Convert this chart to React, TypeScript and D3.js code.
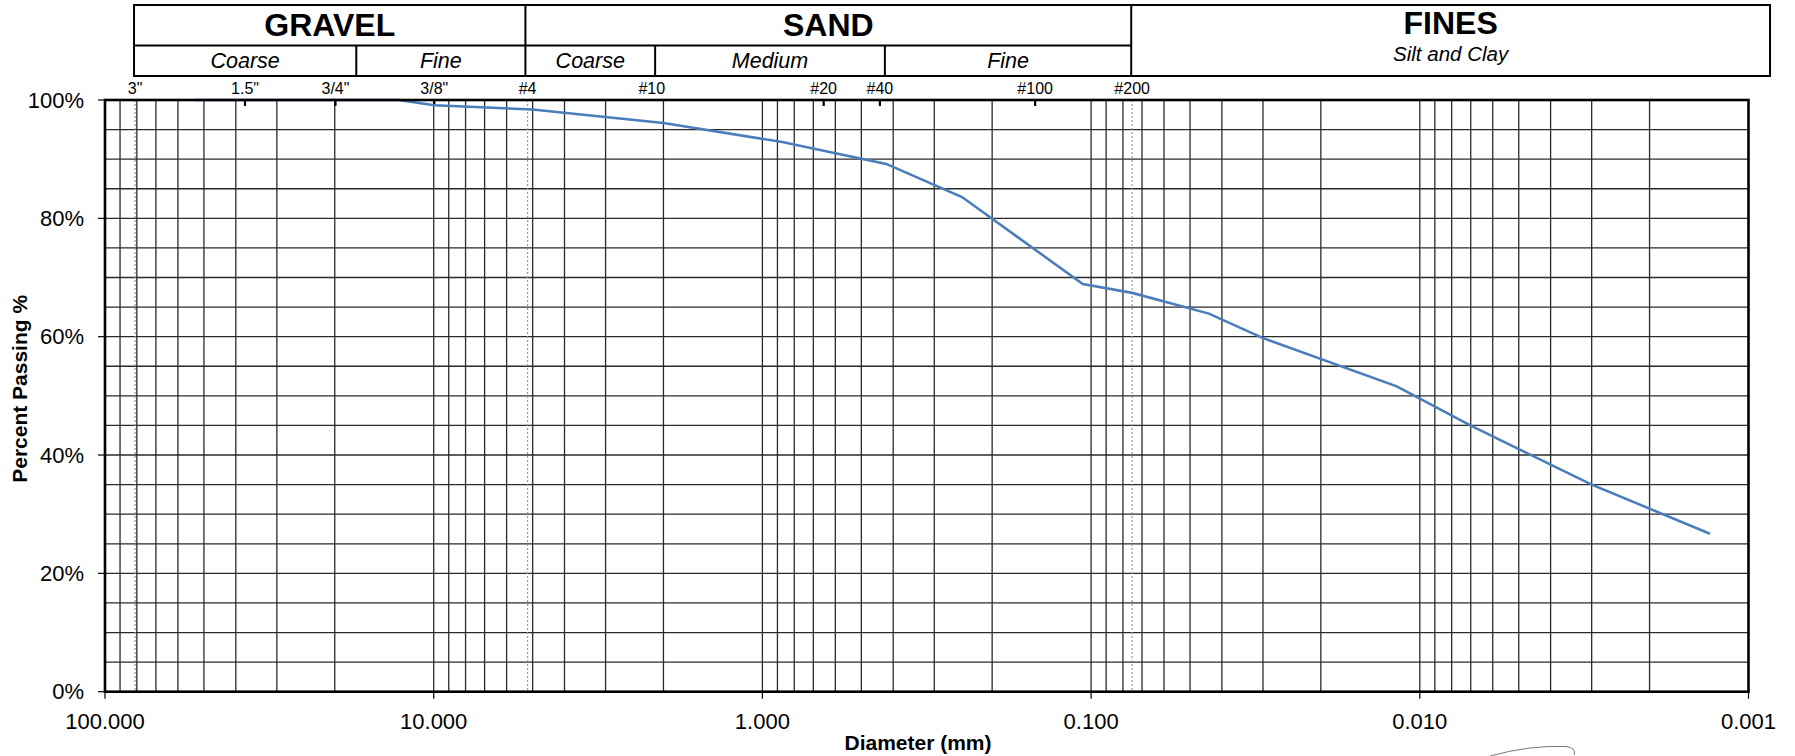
import * as d3 from "d3";

// grain size distribution (mm, % passing)
const diameters = [53.4, 12.8, 9.95, 5.0, 2.0, 0.87, 0.42, 0.247, 0.106, 0.075, 0.0438, 0.0301, 0.01175, 0.00702, 0.003, 0.00131];
const passing = [100, 100, 99.1, 98.4, 96.1, 92.9, 89.2, 83.6, 68.9, 67.4, 63.9, 59.8, 51.6, 45.0, 35.0, 26.7];

// sieve markers along the top
const sieveNames = ['3"', '1.5"', '3/4"', '3/8"', "#4", "#10", "#20", "#40", "#100", "#200"];
const sieveSizes = [81, 37.5, 19.9, 9.96, 5.18, 2.17, 0.651, 0.439, 0.148, 0.075];
const sieveMarks = ["dotted", "tick", "tick", "tick", "dotted", "none", "tick", "tick", "tick", "dotted"];

// header classification table
const groupNames = ["GRAVEL", "SAND", "FINES"];
const groupEdges = [81.6, 5.26, 0.0755, 0.00086];
const subNames = ["Coarse", "Fine", "Coarse", "Medium", "Fine"];
const subEdges = [81.6, 17.2, 5.26, 2.12, 0.424, 0.0755];

const xTickValues = [100, 10, 1, 0.1, 0.01, 0.001];
const yTickValues = [0, 20, 40, 60, 80, 100];

const W = 1795;
const H = 756;
const left = 105;
const right = 1748.5;
const top = 100;
const bottom = 691.7;
const FONT = "'Liberation Sans', Arial, sans-serif";

export default function App() {
  const x = d3.scaleLog().domain([100, 0.001]).range([left, right]);
  const y = d3.scaleLinear().domain([0, 100]).range([bottom, top]);

  const points: [number, number][] = diameters.map((d, i) => [d, passing[i]]);
  const line = d3
    .line<[number, number]>()
    .x((d) => x(d[0]))
    .y((d) => y(d[1]));

  const vGrid = x.ticks().filter((v) => v < 100 && v > 0.001);
  const hGrid = y.ticks(20).filter((v) => v > 0 && v < 100);
  const fmt = d3.format(".3f");

  const rowTop = 5;
  const rowMid = 45.5;
  const rowBot = 76;

  return (
    <svg
      width={W}
      height={H}
      style={{ position: "absolute", left: 0, top: 0, background: "#fff" }}
      fontFamily={FONT}
    >
      {/* header table */}
      <g fill="none" stroke="#000" strokeWidth={2}>
        <rect
          x={x(groupEdges[0])}
          y={rowTop}
          width={x(groupEdges[3]) - x(groupEdges[0])}
          height={rowBot - rowTop}
        />
        <line x1={x(groupEdges[0])} x2={x(groupEdges[2])} y1={rowMid} y2={rowMid} />
        {groupEdges.slice(1, 3).map((e, i) => (
          <line key={i} x1={x(e)} x2={x(e)} y1={rowTop} y2={rowBot} />
        ))}
        {[subEdges[1], subEdges[3], subEdges[4]].map((e, i) => (
          <line key={"s" + i} x1={x(e)} x2={x(e)} y1={rowMid} y2={rowBot} />
        ))}
      </g>
      {groupNames.map((g, i) => {
        const cx = (x(groupEdges[i]) + x(groupEdges[i + 1])) / 2;
        return (
          <text
            key={g}
            x={cx}
            y={i === 2 ? 34 : 36}
            textAnchor="middle"
            fontWeight="bold"
            fontSize={32}
          >
            {g}
          </text>
        );
      })}
      <text
        x={(x(groupEdges[2]) + x(groupEdges[3])) / 2}
        y={61}
        textAnchor="middle"
        fontStyle="italic"
        fontSize={20.5}
      >
        Silt and Clay
      </text>
      {subNames.map((s, i) => (
        <text
          key={i}
          x={(x(subEdges[i]) + x(subEdges[i + 1])) / 2}
          y={68}
          textAnchor="middle"
          fontStyle="italic"
          fontSize={21.5}
        >
          {s}
        </text>
      ))}

      {/* grid */}
      <g stroke="#2a2a2a" strokeWidth={1.3}>
        {hGrid.map((v) => (
          <line key={"h" + v} x1={left} x2={right} y1={y(v)} y2={y(v)} />
        ))}
        {vGrid.map((v, i) => (
          <line key={"v" + i} x1={x(v)} x2={x(v)} y1={top} y2={bottom} />
        ))}
      </g>

      {/* sieve markers */}
      {sieveSizes.map((s, i) => (
        <g key={"sv" + i}>
          {sieveMarks[i] === "dotted" && (
            <line
              x1={x(s)}
              x2={x(s)}
              y1={top}
              y2={bottom}
              stroke="#999"
              strokeWidth={1.2}
              strokeDasharray="2,2"
            />
          )}
          {sieveMarks[i] === "tick" && (
            <line x1={x(s)} x2={x(s)} y1={top} y2={top + 6} stroke="#000" strokeWidth={2.2} />
          )}
          <text x={x(s)} y={94} textAnchor="middle" fontSize={16}>
            {sieveNames[i]}
          </text>
        </g>
      ))}

      {/* curve */}
      <path d={line(points) ?? ""} fill="none" stroke="#4a7ebb" strokeWidth={2.6} />

      {/* frame */}
      <rect
        x={left}
        y={top}
        width={right - left}
        height={bottom - top}
        fill="none"
        stroke="#000"
        strokeWidth={2.6}
      />

      {/* y axis */}
      {yTickValues.map((v) => (
        <g key={"yt" + v}>
          <line x1={left - 7} x2={left} y1={y(v)} y2={y(v)} stroke="#000" strokeWidth={1.2} />
          <text x={84} y={y(v) + 7.5} textAnchor="end" fontSize={22}>
            {v + "%"}
          </text>
        </g>
      ))}
      {/* x axis */}
      {xTickValues.map((v) => (
        <g key={"xt" + v}>
          <line x1={x(v)} x2={x(v)} y1={bottom} y2={bottom + 7} stroke="#000" strokeWidth={1.2} />
          <text x={x(v)} y={729} textAnchor="middle" fontSize={22}>
            {fmt(v)}
          </text>
        </g>
      ))}

      <text
        transform={`translate(27,${(top + bottom) / 2 - 7}) rotate(-90)`}
        textAnchor="middle"
        fontWeight="bold"
        fontSize={21}
      >
        Percent Passing %
      </text>
      <text x={918} y={750} textAnchor="middle" fontWeight="bold" fontSize={21}>
        Diameter (mm)
      </text>

      {/* signature scrawl */}
      <path
        d="M1490,756 Q1530,745 1566,746.5 Q1577,748 1574,755"
        fill="none"
        stroke="#777"
        strokeWidth={1}
      />
    </svg>
  );
}
